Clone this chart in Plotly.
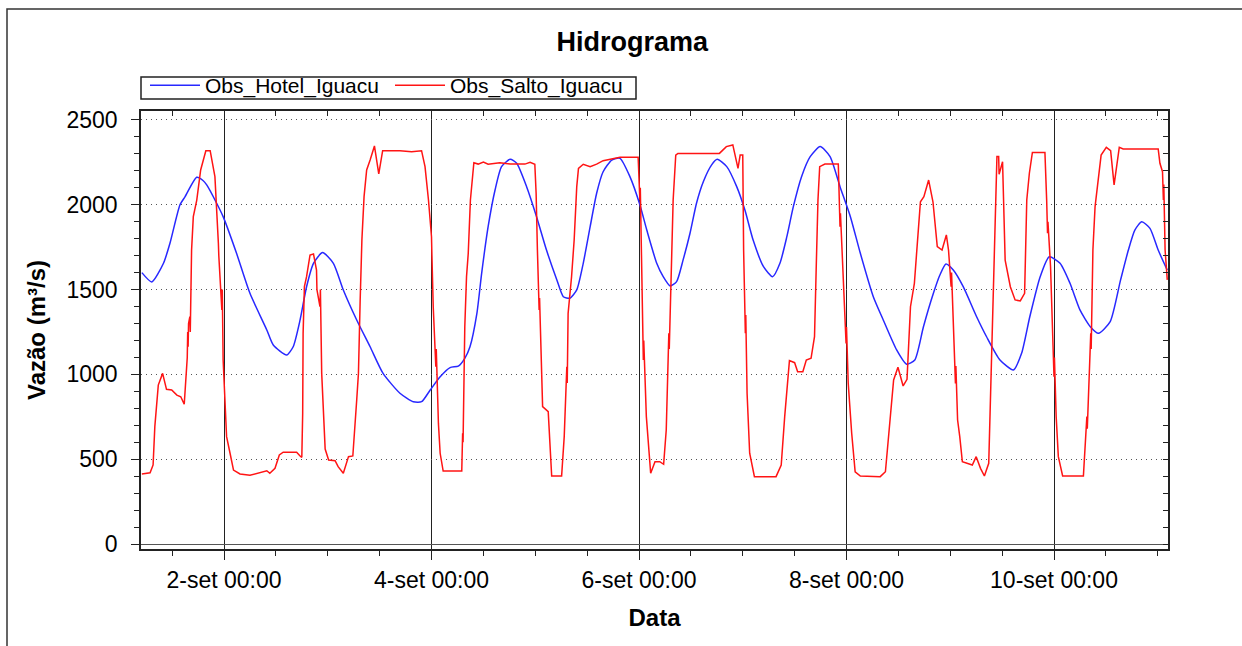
import pandas as pd
import plotly.graph_objects as go

# ---- data (hours counted from 1-set 00:00) ----
base_date = "2015-09-01 00:00"

hotel_hours = [5.0, 7.3, 10.0, 11.5, 13.8, 15.0, 17.7, 19.2, 20.0, 22.3, 23.8, 26.9, 30.0, 33.9, 35.4,
               38.5, 40.0, 41.6, 43.1, 44.7, 46.8, 49.3, 51.6, 54.7, 57.8, 60.8, 64.7, 67.8, 69.7, 71.7,
               74.0, 76.3, 78.2, 79.7, 80.9, 82.5, 83.6, 85.1, 86.7, 88.2, 90.2, 91.7, 94.0, 96.3, 98.6,
               101.0, 102.5, 104.0, 105.6, 107.1, 108.7, 110.2, 111.7, 113.7, 115.6, 117.9, 120.2, 121.8,
               124.1, 125.6, 127.2, 128.7, 130.2, 131.8, 133.3, 134.9, 136.8, 138.1, 140.3, 142.6, 144.5,
               146.4, 148.8, 150.9, 152.6, 154.2, 155.7, 157.6, 159.6, 161.9, 164.2, 166.5, 168.9, 171.2,
               174.2, 176.5, 179.6, 181.9, 183.8, 185.8, 188.1, 189.6, 191.0, 192.7, 195.0, 198.1, 200.4,
               203.5, 206.6, 208.5, 210.4, 212.8, 214.9, 217.4, 219.7, 222.0, 224.4, 226.3, 229.0, 231.4,
               233.2, 234.7, 236.3, 238.2, 240.1, 242.2]
hotel_flow = [1600, 1545, 1655, 1773, 1999, 2048, 2162, 2142, 2117, 2009, 1930, 1714, 1478, 1262, 1173,
              1114, 1163, 1321, 1517, 1655, 1718, 1655, 1498, 1321, 1163, 1006, 889, 839, 839, 908,
              986, 1040, 1049, 1095, 1163, 1360, 1596, 1871, 2087, 2225, 2268, 2245, 2107, 1930, 1733,
              1557, 1458, 1449, 1498, 1655, 1871, 2068, 2195, 2264, 2274, 2166, 2000, 1851,
              1655, 1576, 1521, 1547, 1675, 1832, 2009, 2137, 2235, 2268, 2225, 2107, 1969,
              1792, 1635, 1576, 1655, 1812, 1989, 2166, 2284, 2343, 2284, 2107, 1930, 1714,
              1458, 1321, 1144, 1060, 1085, 1281, 1478, 1586, 1651, 1615, 1517, 1340, 1222,
              1085, 1026, 1124, 1340, 1576, 1694, 1655, 1537, 1380, 1281, 1242, 1311, 1557,
              1733, 1851, 1900, 1861, 1733, 1615]

salto_hours = [5.0, 6.9, 7.6, 8.0, 8.8, 9.8, 10.7, 11.9, 13.1, 14.0, 14.8, 15.5, 15.6, 15.7, 15.8, 16.1,
               16.2, 16.5, 16.9, 17.7, 18.6, 19.8, 20.8, 21.9, 22.7, 22.8, 23.5, 23.6, 23.8, 24.2, 24.6,
               25.4, 26.2, 27.7, 30.0, 33.9, 34.6, 35.8, 36.8, 37.7, 40.8, 41.6, 42.0, 42.2, 42.3, 42.6,
               43.1, 43.9, 44.7, 45.4, 45.5, 46.2, 46.3, 46.6, 47.0, 47.4, 48.2, 49.7, 50.4, 51.6, 52.8,
               53.8, 54.7, 55.1, 55.5, 55.9, 56.4, 57.0, 57.8, 58.8, 59.8, 60.7, 64.7, 67.4, 69.7, 70.5,
               71.3, 72.0, 72.1, 72.4, 73.0, 73.1, 73.6, 74.0, 74.7, 79.0, 79.2, 79.3, 79.7, 80.1, 80.5,
               81.0, 81.8, 82.8, 84.0, 85.1, 87.8, 90.2, 93.6, 94.8, 95.9, 96.2, 96.5, 96.9, 97.0, 97.5,
               97.7, 99.0, 99.8, 102.1, 102.7, 103.3, 103.4, 103.6, 104.4, 105.0, 105.6, 106.0, 107.1,
               108.7, 110.2, 111.7, 114.1, 115.6, 119.8, 120.2, 120.3, 120.6, 121.0, 121.1, 121.7, 122.7,
               123.7, 124.8, 125.7, 126.3, 126.9, 127.0, 127.5, 127.9, 128.5, 129.0, 138.6, 140.2, 141.7,
               142.3, 142.9, 143.4, 144.0, 144.2, 144.6, 144.7, 145.0, 145.6, 146.7, 151.7, 152.9, 153.7,
               154.8, 156.0, 156.7, 157.9, 158.7, 159.8, 160.6, 161.0, 161.4, 161.8, 163.0, 166.1, 166.5,
               166.6, 167.3, 167.9, 168.0, 168.4, 169.2, 170.0, 171.2, 175.8, 177.0, 177.8, 178.9, 179.9,
               181.1, 182.0, 182.4, 182.8, 183.7, 184.5, 185.1, 185.9, 187.0, 188.0, 189.0, 190.1, 191.1,
               191.6, 192.2, 192.3, 192.7, 193.2, 193.3, 193.7, 194.2, 194.8, 197.1, 198.0, 199.0, 199.9,
               200.9, 201.3, 201.8, 202.3, 202.8, 203.2, 203.3, 204.1, 204.4, 204.7, 205.9, 207.0, 208.2,
               209.2, 209.7, 210.3, 211.0, 213.9, 214.3, 214.5, 214.6, 215.2, 215.7, 216.0, 216.1, 216.5,
               217.0, 218.0, 222.8, 223.6, 223.7, 224.2, 224.5, 224.6, 225.0, 225.5, 226.3, 226.9, 228.1,
               229.1, 229.9, 231.1, 232.0, 240.1, 240.5, 241.1, 241.3, 241.4, 241.7, 242.2]
salto_flow = [413, 420, 466, 692, 937, 1006, 912, 908, 878, 868, 824, 1100, 1250, 1163, 1300, 1340,
              1250, 1733, 1930, 2028, 2205, 2319, 2319, 2166, 1773, 1700, 1380, 1500, 1085, 889, 633,
              535, 436, 413, 405, 432, 417, 446, 525, 541, 541, 519, 511, 770, 1242, 1517,
              1576, 1704, 1710, 1615, 1500, 1399, 1500, 1006, 731, 560, 495, 491, 456, 417, 515,
              519, 849, 1006, 1439, 1792, 2048, 2205, 2264, 2347, 2182, 2319, 2319, 2313, 2319, 2225,
              2028, 1812, 1700, 1399, 1045, 1150, 711, 535, 430, 430, 653, 600, 1281, 1576, 1714,
              2028, 2248, 2240, 2252, 2239, 2248, 2240, 2240, 2250, 2239, 2068, 1733, 1380, 1450, 1045,
              810, 780, 401, 401, 633, 1045, 950, 1360, 1576, 1792, 2107, 2215, 2239,
              2225, 2240, 2260, 2274, 2280, 2280, 2028, 2100, 1635, 1085, 1200, 751, 417,
              485, 485, 470, 672, 1242, 1150, 1733, 2028, 2293, 2303, 2303, 2343, 2353,
              2284, 2215, 2293, 2293, 1733, 1242, 1350, 889, 535, 397, 397, 466, 751,
              1081, 1069, 1016, 1016, 1085, 1095, 1222, 1635, 2028, 2225, 2240, 2240, 1871,
              1950, 1537, 1183, 1280, 947, 653, 426, 401, 397, 426, 653, 967, 1042,
              932, 971, 1200, 1399, 1537, 1792, 2018, 2048, 2146, 2018, 1753, 1733, 1822,
              1733, 1517, 1600, 1242, 947, 1050, 731, 633, 485, 466, 515, 446, 401,
              476, 849, 1439, 1930, 2284, 2284, 2180, 2254, 1969, 1674, 1517, 1439, 1433,
              1478, 2028, 2186, 2309, 2309, 2028, 1832, 1900, 1635, 1281, 986, 1100, 751,
              515, 401, 401, 751, 680, 1006, 1242, 1150, 1733, 1989, 2146, 2293, 2339,
              2319, 2117, 2339, 2329, 2329, 2245, 2195, 2028, 2120, 1733, 1557]

tick_dates = ["2015-09-02", "2015-09-04", "2015-09-06", "2015-09-08", "2015-09-10"]
tick_labels = ["2-set 00:00", "4-set 00:00", "6-set 00:00", "8-set 00:00", "10-set 00:00"]
y_ticks = [0, 500, 1000, 1500, 2000, 2500]

t0 = pd.Timestamp(base_date)
hotel_t = t0 + pd.to_timedelta(hotel_hours, unit="h")
salto_t = t0 + pd.to_timedelta(salto_hours, unit="h")

x_lo = t0 + pd.to_timedelta(4.80, unit="h")
x_hi = t0 + pd.to_timedelta(242.37, unit="h")
y_rng = [-29.5, 2553]

FONT = "Liberation Sans, Arial, sans-serif"
PW, PH, L, T = 1027, 438, 141, 111   # plot-area size / origin in px


def px_x(p):
    return (p - L) / PW


def px_y(p):
    return (T + PH - p) / PH


fig = go.Figure()
fig.add_trace(go.Scatter(x=hotel_t, y=hotel_flow, mode="lines", name="Obs_Hotel_Iguacu",
                         line=dict(color="rgb(40,40,255)", width=1.5, shape="spline", smoothing=0.6)))
fig.add_trace(go.Scatter(x=salto_t, y=salto_flow, mode="lines", name="Obs_Salto_Iguacu",
                         line=dict(color="rgb(255,20,20)", width=1.5)))
# helper trace so the mirrored top/right tick axes are drawn
fig.add_trace(go.Scatter(x=[x_lo], y=[-100], mode="markers", xaxis="x2", yaxis="y2",
                         showlegend=False, hoverinfo="skip", marker=dict(opacity=0)))

fig.update_layout(
    width=1242, height=646,
    margin=dict(l=141, r=74, t=111, b=97),
    paper_bgcolor="white", plot_bgcolor="white",
    font=dict(family=FONT, color="black"),
    title=dict(text="<b>Hidrograma</b>", x=0.509, xref="container", xanchor="center",
               y=1 - 42 / 646, yref="container", yanchor="middle",
               font=dict(size=27, family=FONT, color="black")),
    legend=dict(orientation="h", x=px_x(145), xanchor="left", y=px_y(65), yanchor="top",
                borderwidth=0, bgcolor="rgba(0,0,0,0)",
                font=dict(size=21, family=FONT), itemwidth=50,
                entrywidth=180, entrywidthmode="pixels", traceorder="normal"),
    xaxis=dict(
        type="date", range=[x_lo, x_hi],
        tickmode="array", tickvals=tick_dates, ticktext=tick_labels,
        ticks="outside", ticklen=9, tickwidth=1.2, tickcolor="#222",
        ticklabelstandoff=1,
        tickfont=dict(size=23, family=FONT),
        showgrid=True, gridcolor="#222", gridwidth=1.2,
        minor=dict(dtick=12 * 3600 * 1000, tick0=base_date, ticks="outside", ticklen=5,
                   tickcolor="#222", showgrid=False),
        showline=True, linecolor="#222", linewidth=1.5, mirror=True,
        title=dict(text="<b>Data</b>", font=dict(size=24, family=FONT), standoff=17),
    ),
    yaxis=dict(
        range=y_rng, tickmode="array", tickvals=y_ticks,
        ticks="outside", ticklen=8, tickwidth=1.2, tickcolor="#222",
        ticklabelstandoff=9,
        tickfont=dict(size=23, family=FONT),
        showgrid=True, gridcolor="#555", gridwidth=1, griddash="1px,4px",
        zeroline=True, zerolinecolor="#555", zerolinewidth=1,
        minor=dict(dtick=100, ticks="outside", ticklen=5, tickcolor="#222", showgrid=False),
        showline=True, linecolor="#222", linewidth=1.5, mirror=True,
        title=dict(text="<b>Vazão (m³/s)</b>", font=dict(size=24, family=FONT), standoff=14),
    ),
    xaxis2=dict(type="date", range=[x_lo, x_hi], overlaying="x", side="top",
                tickmode="array", tickvals=tick_dates, ticks="inside", ticklen=5,
                tickcolor="#222", showticklabels=False, showgrid=False, showline=False,
                minor=dict(dtick=12 * 3600 * 1000, tick0=base_date, ticks="inside", ticklen=5,
                           tickcolor="#222", showgrid=False)),
    yaxis2=dict(range=y_rng, overlaying="y", side="right", tickmode="array", tickvals=y_ticks,
                ticks="inside", ticklen=5, tickcolor="#222", showticklabels=False,
                showgrid=False, zeroline=False, showline=False,
                minor=dict(dtick=100, ticks="inside", ticklen=5, tickcolor="#222", showgrid=False)),
    shapes=[
        # outer frame of the picture
        dict(type="rect", xref="paper", yref="paper",
             x0=px_x(7), x1=1.3, y0=-0.6, y1=px_y(9),
             line=dict(color="#333", width=1.5), fillcolor="rgba(0,0,0,0)", layer="below"),
        # legend box
        dict(type="rect", xref="paper", yref="paper",
             x0=0, x1=px_x(636), y0=px_y(99), y1=px_y(77),
             line=dict(color="#222", width=1.5), fillcolor="rgba(0,0,0,0)", layer="above"),
    ],
)

fig.write_html("out.html")
